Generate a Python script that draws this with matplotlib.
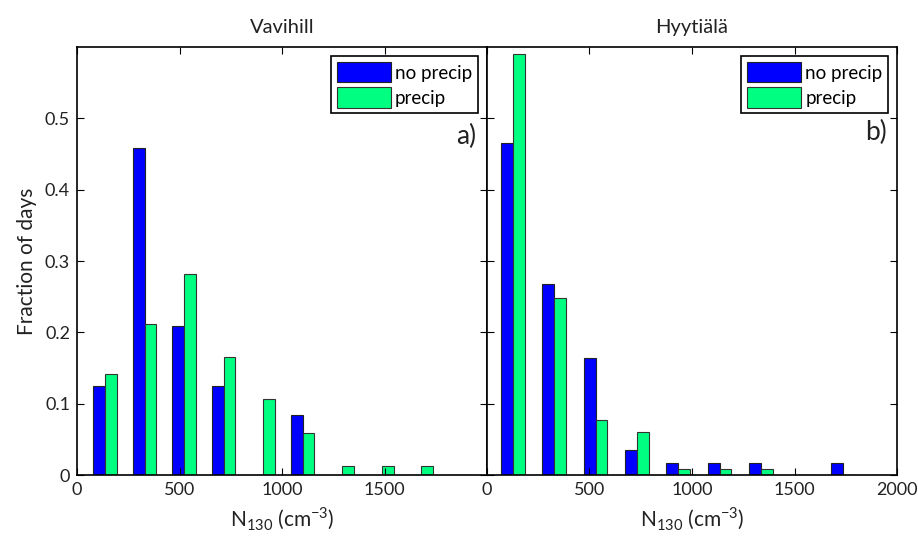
import matplotlib.pyplot as plt
import numpy as np

plt.rcParams['font.family'] = ['Lato', 'DejaVu Sans']
plt.rcParams['mathtext.fontset'] = 'custom'
plt.rcParams['mathtext.rm'] = 'Lato'

# bin centres (cm^-3) and fraction of days in each bin
vav_centers = [137, 330, 522, 715, 908, 1101, 1294, 1487, 1680, 1873]
vav_noprecip = [0.125, 0.458, 0.209, 0.125, 0.0, 0.084, 0.0, 0.0, 0.0, 0.0]
vav_precip = [0.141, 0.212, 0.282, 0.165, 0.106, 0.059, 0.012, 0.012, 0.012, 0.0]

hyy_centers = [127, 328, 530, 730, 933, 1134, 1336, 1536, 1737, 1938]
hyy_noprecip = [0.466, 0.268, 0.164, 0.035, 0.017, 0.017, 0.017, 0.0, 0.017, 0.0]
hyy_precip = [0.590, 0.248, 0.077, 0.060, 0.008, 0.008, 0.008, 0.0, 0.0, 0.0]

blue = '#0000ff'
green = '#00ff80'
txt = '#222222'

fig = plt.figure(figsize=(9.18, 5.47), dpi=100)
ax1 = fig.add_axes([0.0839, 0.1316, 0.4466, 0.7824])
ax2 = fig.add_axes([0.5302, 0.1316, 0.4473, 0.7824])

panels = [
    (ax1, 'Vavihill', vav_centers, vav_noprecip, vav_precip, 'a)', 57, 0.79),
    (ax2, 'Hyytiälä', hyy_centers, hyy_noprecip, hyy_precip, 'b)', 58, 0.80),
]

for ax, title, centers, noprec, prec, tag, w, ty in panels:
    c = np.array(centers)
    ax.bar(c - w / 2, noprec, width=w, color=blue, edgecolor='#222222',
           linewidth=0.8, label='no precip')
    ax.bar(c + w / 2, prec, width=w, color=green, edgecolor='#333333',
           linewidth=0.8, label='precip')
    ax.set_xlim(0, 2000)
    ax.set_ylim(0, 0.6)
    ax.set_yticks([0, 0.1, 0.2, 0.3, 0.4, 0.5])
    ax.tick_params(direction='in', top=True, right=True, labelsize=13,
                   length=5, colors='black', labelcolor=txt, pad=5)
    for s in ax.spines.values():
        s.set_linewidth(1.2)
    ax.set_title(title, fontsize=14.5, pad=10, color=txt)
    ax.set_xlabel(r'N$_{130}$ (cm$^{-3}$)', fontsize=15, color=txt,
                  labelpad=6)
    leg = ax.legend(loc='upper right', fontsize=13.5, handlelength=2.9,
                    handleheight=1.3, handletextpad=0.2, borderpad=0.3,
                    labelspacing=0.25, fancybox=False, framealpha=1,
                    edgecolor='black', borderaxespad=0.5)
    leg.get_frame().set_linewidth(1.2)
    ax.text(0.975, ty, tag, transform=ax.transAxes, ha='right',
            va='center', fontsize=19, color=txt)

ax1.set_xticks([0, 500, 1000, 1500])
ax2.set_xticks([0, 500, 1000, 1500, 2000])
ax1.set_yticklabels(['0', '0.1', '0.2', '0.3', '0.4', '0.5'])
ax2.set_yticklabels([])
ax1.set_ylabel('Fraction of days', fontsize=15, color=txt, labelpad=6)

fig.savefig('out.png', dpi=100)
